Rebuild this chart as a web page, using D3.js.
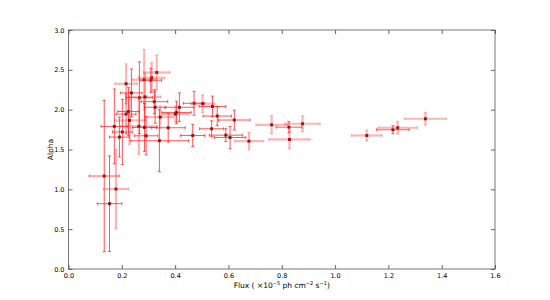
<!DOCTYPE html>
<html>
<head>
<meta charset="utf-8">
<script src="https://cdnjs.cloudflare.com/ajax/libs/d3/7.8.5/d3.min.js"></script>
<style>
body { margin: 0; background: #fff; }
text { font-family: "DejaVu Sans", sans-serif; fill: #000; }
</style>
</head>
<body>
<svg id="chart" width="550" height="300"></svg>
<script>
// Values.
var flux      = [0.134, 0.178, 0.154, 0.341, 0.331, 0.312, 0.309, 0.284, 0.216, 0.236, 0.266, 0.287, 0.322, 0.325, 0.405, 0.416, 0.401, 0.471, 0.503, 0.540, 0.558, 0.622, 0.537, 0.466, 0.590, 0.606, 0.677, 0.762, 0.827, 0.878, 0.829, 1.119, 1.217, 1.235, 1.339, 0.225, 0.216, 0.229, 0.172, 0.202, 0.191, 0.264, 0.285, 0.291, 0.374, 0.344];
var fluxErr   = [0.056, 0.047, 0.046, 0.110, 0.050, 0.050, 0.040, 0.045, 0.042, 0.040, 0.050, 0.060, 0.050, 0.040, 0.055, 0.054, 0.050, 0.040, 0.045, 0.050, 0.053, 0.059, 0.045, 0.045, 0.062, 0.059, 0.054, 0.059, 0.048, 0.066, 0.077, 0.057, 0.061, 0.074, 0.078, 0.040, 0.037, 0.056, 0.050, 0.037, 0.037, 0.070, 0.045, 0.044, 0.064, 0.050];
var alpha     = [1.167, 1.004, 0.820, 1.610, 2.467, 2.400, 2.370, 2.375, 2.325, 2.210, 2.150, 2.160, 2.100, 2.030, 1.965, 2.030, 1.945, 2.080, 2.075, 2.040, 1.920, 1.870, 1.760, 1.676, 1.680, 1.650, 1.605, 1.810, 1.780, 1.823, 1.626, 1.676, 1.748, 1.773, 1.886, 1.977, 1.945, 1.865, 1.790, 1.720, 1.656, 1.790, 1.777, 1.672, 1.773, 1.907];
var alphaErr  = [0.950, 0.500, 0.600, 0.390, 0.220, 0.190, 0.150, 0.380, 0.250, 0.300, 0.450, 0.300, 0.150, 0.200, 0.140, 0.180, 0.100, 0.150, 0.110, 0.130, 0.120, 0.125, 0.100, 0.140, 0.080, 0.140, 0.110, 0.115, 0.070, 0.100, 0.120, 0.070, 0.050, 0.080, 0.080, 0.300, 0.250, 0.300, 0.470, 0.410, 0.250, 0.350, 0.300, 0.240, 0.180, 0.140];
// Which of the two overplotted sets a point belongs to (0 = thin red, 1 = wide pale).
var dataSet   = [0, 1, 0, 0, 1, 1, 0, 1, 1, 0, 0, 1, 0, 0, 0, 0, 1, 0, 1, 0, 0, 0, 0, 0, 0, 0, 1, 1, 0, 1, 1, 1, 0, 1, 1, 0, 0, 1, 0, 0, 0, 1, 0, 0, 0, 1];
var xTicks = [0.0, 0.2, 0.4, 0.6, 0.8, 1.0, 1.2, 1.4, 1.6];
var yTicks = [0.0, 0.5, 1.0, 1.5, 2.0, 2.5, 3.0];

var svg = d3.select("#chart");
var margin = {left: 68.5, right: 55, top: 30, bottom: 31};
var width = 550 - margin.left - margin.right;
var height = 300 - margin.top - margin.bottom;

var x = d3.scaleLinear().domain([0, 1.6]).range([0, width]);
var y = d3.scaleLinear().domain([0, 3]).range([height, 0]);

var g = svg.append("g").attr("transform", "translate(" + margin.left + "," + margin.top + ")");

var points = flux.map(function(f, i) {
    return {x: f, xe: fluxErr[i], y: alpha[i], ye: alphaErr[i], set: dataSet[i]};
});

// Error bar styles per set.
var barColor = ["rgba(255,30,30,0.75)", "rgba(255,60,60,0.38)"];
var barWidth = [1, 2.2];

var bars = g.selectAll("g.pt")
    .data(points)
    .enter()
    .append("g")
    .attr("class", "pt");

bars.append("line")    // Horizontal error.
    .attr("x1", function(d) { return x(d.x - d.xe); })
    .attr("x2", function(d) { return x(d.x + d.xe); })
    .attr("y1", function(d) { return y(d.y); })
    .attr("y2", function(d) { return y(d.y); })
    .attr("stroke", function(d) { return barColor[d.set]; })
    .attr("stroke-width", function(d) { return barWidth[d.set]; });

bars.append("line")    // Vertical error.
    .attr("x1", function(d) { return x(d.x); })
    .attr("x2", function(d) { return x(d.x); })
    .attr("y1", function(d) { return y(d.y - d.ye); })
    .attr("y2", function(d) { return y(d.y + d.ye); })
    .attr("stroke", function(d) { return barColor[d.set]; })
    .attr("stroke-width", function(d) { return barWidth[d.set]; });

// Caps.
[-1, 1].forEach(function(s) {
    bars.append("line")
        .attr("x1", function(d) { return x(d.x + s * d.xe); })
        .attr("x2", function(d) { return x(d.x + s * d.xe); })
        .attr("y1", function(d) { return y(d.y) - 1.5; })
        .attr("y2", function(d) { return y(d.y) + 1.5; })
        .attr("stroke", function(d) { return barColor[d.set]; })
        .attr("stroke-width", 1);
    bars.append("line")
        .attr("x1", function(d) { return x(d.x) - 1.5; })
        .attr("x2", function(d) { return x(d.x) + 1.5; })
        .attr("y1", function(d) { return y(d.y + s * d.ye); })
        .attr("y2", function(d) { return y(d.y + s * d.ye); })
        .attr("stroke", function(d) { return barColor[d.set]; })
        .attr("stroke-width", 1);
});

bars.append("rect")
    .attr("x", function(d) { return x(d.x) - 1.5; })
    .attr("y", function(d) { return y(d.y) - 1.5; })
    .attr("width", 3)
    .attr("height", 3)
    .attr("fill", "#8a0000")
    .attr("opacity", 0.85);

// Axes, ticks pointing inward on all four sides.
function styleAxis(sel) {
    sel.select(".domain").remove();
    sel.selectAll("line").attr("stroke", "#000").attr("stroke-width", 0.6);
    sel.selectAll("text").style("font-size", "6.5px").style("font-family", "DejaVu Sans, sans-serif");
}
var fmt = d3.format(".1f");

g.append("g").attr("transform", "translate(0," + height + ")")
    .call(d3.axisBottom(x).tickValues(xTicks).tickFormat(fmt).tickSizeInner(-4).tickSizeOuter(0).tickPadding(4))
    .call(styleAxis);
g.append("g")
    .call(d3.axisTop(x).tickValues(xTicks).tickFormat("").tickSizeInner(-4).tickSizeOuter(0))
    .call(styleAxis);
g.append("g")
    .call(d3.axisLeft(y).tickValues(yTicks).tickFormat(fmt).tickSizeInner(-4).tickSizeOuter(0).tickPadding(4))
    .call(styleAxis);
g.append("g").attr("transform", "translate(" + width + ",0)")
    .call(d3.axisRight(y).tickValues(yTicks).tickFormat("").tickSizeInner(-4).tickSizeOuter(0))
    .call(styleAxis);

g.append("rect")
    .attr("width", width)
    .attr("height", height)
    .attr("fill", "none")
    .attr("stroke", "#555")
    .attr("stroke-width", 0.8);

// Axis labels.
var xl = g.append("text")
    .attr("x", width / 2)
    .attr("y", height + 19)
    .attr("text-anchor", "middle")
    .style("font-size", "7.5px");
xl.append("tspan").text("Flux ( \u00d710");
xl.append("tspan").attr("dy", -3).style("font-size", "5px").text("\u22125");
xl.append("tspan").attr("dy", 3).text(" ph cm");
xl.append("tspan").attr("dy", -3).style("font-size", "5px").text("\u22122");
xl.append("tspan").attr("dy", 3).text(" s");
xl.append("tspan").attr("dy", -3).style("font-size", "5px").text("\u22121");
xl.append("tspan").attr("dy", 3).text(")");

g.append("text")
    .attr("transform", "translate(-16," + (height / 2) + ") rotate(-90)")
    .attr("text-anchor", "middle")
    .style("font-size", "7.5px")
    .text("Alpha");
</script>
</body>
</html>
